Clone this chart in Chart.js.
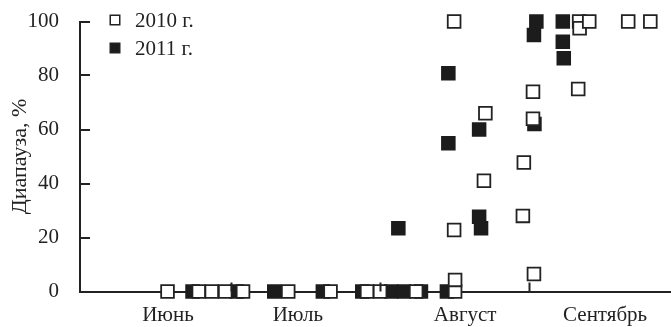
<!DOCTYPE html>
<html>
<head>
<meta charset="utf-8">
<script src="https://cdn.jsdelivr.net/npm/chart.js@4/dist/chart.umd.min.js"></script>
<style>
  html, body { margin: 0; padding: 0; background: #fff; }
  #wrap { width: 671px; height: 327px; }
</style>
</head>
<body>
<div id="wrap"><canvas id="chart"></canvas></div>
<script>
// x = day counted from 1 June (1 July = 31, 1 Aug = 62, 1 Sep = 93)
const days2010 = [17.8, 24.3, 27.0, 29.8, 33.5, 42.9, 51.7, 59.3, 62.0, 69.5,
    77.6, 77.6, 77.4, 77.4, 83.6, 83.9, 91.7, 91.9, 93.8, 93.8, 94.0,
    103.2, 103.4, 103.5, 105.5, 113.6, 118.2];
const diap2010 = [0, 0, 0, 0, 0, 0, 0, 0, 0, 0,
    0, 4.3, 22.8, 100, 41, 66, 28, 47.8, 74, 64, 6.5,
    75, 100, 97.5, 100, 100, 100];

const days2011 = [23.0, 32.2, 40.0, 50.1, 58.3, 64.3, 67.0, 70.5, 75.9,
    65.8, 76.2, 76.2, 82.6, 82.6, 83.0, 94.1, 94.5, 94.0, 100.0, 100.0, 100.2];
const diap2011 = [0, 0, 0, 0, 0, 0, 0, 0, 0,
    23.4, 80.8, 54.9, 60, 27.7, 23.4, 62, 100, 95, 100, 92.5, 86.4];

const seriesLabels = ['2010 г.', '2011 г.'];
const monthNames = ['Июнь', 'Июль', 'Август', 'Сентябрь'];
const monthLabelDays = [17.9, 44.9, 79.7, 108.8];
const monthStarts = [31, 62, 93];
const yTicks = [0, 20, 40, 60, 80, 100];

const ink = '#222';
const serif = 'Liberation Serif';

function toPoints(xs, ys) {
    return xs.map((x, i) => ({ x: x, y: ys[i] }));
}

// inward tick marks + legend in the upper left corner
const extras = {
    id: 'extras',
    afterDraw(chart) {
        const ctx = chart.ctx;
        const xs = chart.scales.x, ys = chart.scales.y;
        ctx.save();
        ctx.strokeStyle = ink;
        ctx.lineWidth = 2;
        ctx.beginPath();
        yTicks.forEach(v => {
            const py = Math.round(ys.getPixelForValue(v));
            ctx.moveTo(xs.left, py);
            ctx.lineTo(xs.left + 10, py);
        });
        monthStarts.forEach(d => {
            const px = Math.round(xs.getPixelForValue(d)) + 0.5;
            ctx.moveTo(px, ys.bottom);
            ctx.lineTo(px, ys.bottom - 9);
        });
        ctx.stroke();

        // legend
        const lx = 115, ly = [20, 48], s = 9.5;
        ctx.font = '21px ' + serif;
        ctx.textBaseline = 'middle';
        chart.data.datasets.forEach((ds, i) => {
            ctx.lineWidth = 1.5;
            ctx.fillStyle = ds.backgroundColor;
            ctx.fillRect(lx - s / 2, ly[i] - s / 2, s, s);
            ctx.strokeRect(lx - s / 2, ly[i] - s / 2, s, s);
            ctx.fillStyle = ink;
            ctx.fillText(ds.label, 135, ly[i] + 1);
        });
        ctx.restore();
    }
};

new Chart(document.getElementById('chart'), {
    type: 'scatter',
    data: {
        datasets: [{
            label: seriesLabels[0],
            data: toPoints(days2010, diap2010),
            pointStyle: 'rect',
            pointRadius: 9,
            pointHoverRadius: 9,
            backgroundColor: '#fff',
            borderColor: ink,
            borderWidth: 1.8,
            clip: false
        }, {
            label: seriesLabels[1],
            data: toPoints(days2011, diap2011),
            pointStyle: 'rect',
            pointRadius: 9,
            pointHoverRadius: 9,
            backgroundColor: '#1c1c1c',
            borderColor: '#1c1c1c',
            borderWidth: 1.8,
            clip: false
        }]
    },
    options: {
        responsive: true,
        maintainAspectRatio: false,
        animation: false,
        layout: {
            autoPadding: false,
            padding: { top: 21.5, right: 0, left: 0, bottom: 0 }
        },
        plugins: {
            legend: { display: false },
            tooltip: { enabled: false }
        },
        scales: {
            x: {
                type: 'linear',
                min: -0.4,
                max: 122.5,
                grid: { display: false },
                border: { display: true, color: ink, width: 2 },
                afterBuildTicks: scale => {
                    scale.ticks = monthLabelDays.map(v => ({ value: v }));
                },
                afterFit: scale => {
                    scale.height = 35.5;
                    scale.paddingLeft = 0;
                    scale.paddingRight = 0;
                },
                ticks: {
                    autoSkip: false,
                    maxRotation: 0,
                    padding: 3,
                    color: ink,
                    font: { family: serif, size: 21 },
                    callback: (v, i) => monthNames[i]
                }
            },
            y: {
                min: 0,
                max: 100,
                grid: { display: false },
                border: { display: true, color: ink, width: 2 },
                afterBuildTicks: scale => {
                    scale.ticks = yTicks.map(v => ({ value: v }));
                },
                afterFit: scale => {
                    scale.width = 80;
                    scale.paddingTop = 0;
                    scale.paddingBottom = 0;
                },
                ticks: {
                    padding: 13,
                    color: ink,
                    font: { family: serif, size: 21 }
                },
                title: {
                    display: true,
                    text: 'Диапауза, %',
                    color: ink,
                    padding: { top: 7, bottom: 0 },
                    font: { family: serif, size: 22 }
                }
            }
        }
    },
    plugins: [extras]
});
</script>
</body>
</html>
